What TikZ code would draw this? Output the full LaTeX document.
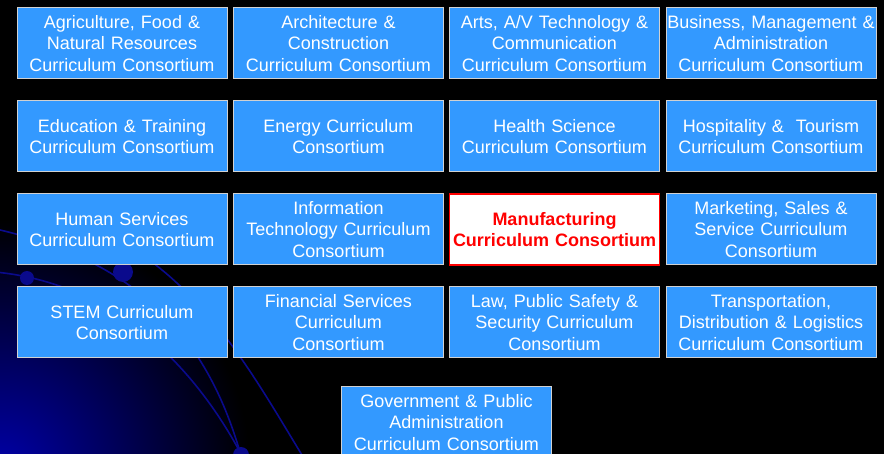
\documentclass[tikz,border=0pt]{standalone}
\usepackage{fontspec}
\setmainfont{Liberation Sans}
\definecolor{boxblue}{HTML}{3399FF}
\definecolor{swirl}{HTML}{0A0A8C}
\definecolor{glow}{HTML}{0000A8}
\begin{document}
\begin{tikzpicture}[x=1pt,y=-1pt,
  cbox/.style={draw=white!82!black, line width=1pt, fill=boxblue,
    minimum width=210pt, minimum height=71pt, inner sep=0pt,
    text width=210pt, align=center, text=white,
    font=\fontsize{18}{21.5}\selectfont},
  hbox/.style={cbox, fill=white, draw=red, line width=1.5pt, text=red,
    font=\fontsize{18}{21.5}\selectfont\bfseries},
  swirlline/.style={draw=swirl, line width=1.6pt},
  swirldot/.style={fill=swirl}]
\useasboundingbox (0,0) rectangle (884,454);
\fill[black] (0,0) rectangle (884,454);
% background glow and swirl
\begin{scope}
  \clip (0,0) rectangle (884,454);
  \shade[inner color=glow, outer color=black] (0,470) circle (250);
  \draw[swirlline] (-5,272) .. controls (110,283) and (190,360) .. (240,452);
  \draw[swirlline] (0,230) .. controls (150,265) and (210,350) .. (240,452);
  \draw[swirlline] (90,225) .. controls (200,275) and (250,370) .. (305,460);
  \fill[swirldot] (27,278) circle (7);
  \fill[swirldot] (123,272) circle (10);
  \fill[swirldot] (241,455) circle (8);
\end{scope}
% row 1
\node[cbox] (agri) at (122,43.5) {Agriculture, Food \&\\Natural Resources\\Curriculum Consortium};
\node[cbox] (arch) at (338.5,43.5) {Architecture \&\\Construction\\Curriculum Consortium};
\node[cbox] (arts) at (554.5,43.5) {Arts, A/V Technology \&\\Communication\\Curriculum Consortium};
\node[cbox] (bus) at (771,43.5) {Business, Management \&\\Administration\\Curriculum Consortium};
% row 2
\node[cbox] (edu) at (122,136.5) {Education \& Training\\Curriculum Consortium};
\node[cbox] (ener) at (338.5,136.5) {Energy Curriculum\\Consortium};
\node[cbox] (heal) at (554.5,136.5) {Health Science\\Curriculum Consortium};
\node[cbox] (hosp) at (771,136.5) {Hospitality \&\ \ Tourism\\Curriculum Consortium};
% row 3
\node[cbox] (hum) at (122,229.5) {Human Services\\Curriculum Consortium};
\node[cbox] (it) at (338.5,229.5) {Information\\Technology Curriculum\\Consortium};
\node[hbox] (manu) at (554.5,229.5) {Manufacturing\\Curriculum Consortium};
\node[cbox] (mark) at (771,229.5) {Marketing, Sales \&\\Service Curriculum\\Consortium};
% row 4
\node[cbox] (stem) at (122,322.5) {STEM Curriculum\\Consortium};
\node[cbox] (fin) at (338.5,322.5) {Financial Services\\Curriculum\\Consortium};
\node[cbox] (law) at (554.5,322.5) {Law, Public Safety \&\\Security Curriculum\\Consortium};
\node[cbox] (trans) at (771,322.5) {Transportation,\\Distribution \& Logistics\\Curriculum Consortium};
% row 5
\node[cbox] (gov) at (446.5,422.5) {Government \& Public\\Administration\\Curriculum Consortium};
\end{tikzpicture}
\end{document}
